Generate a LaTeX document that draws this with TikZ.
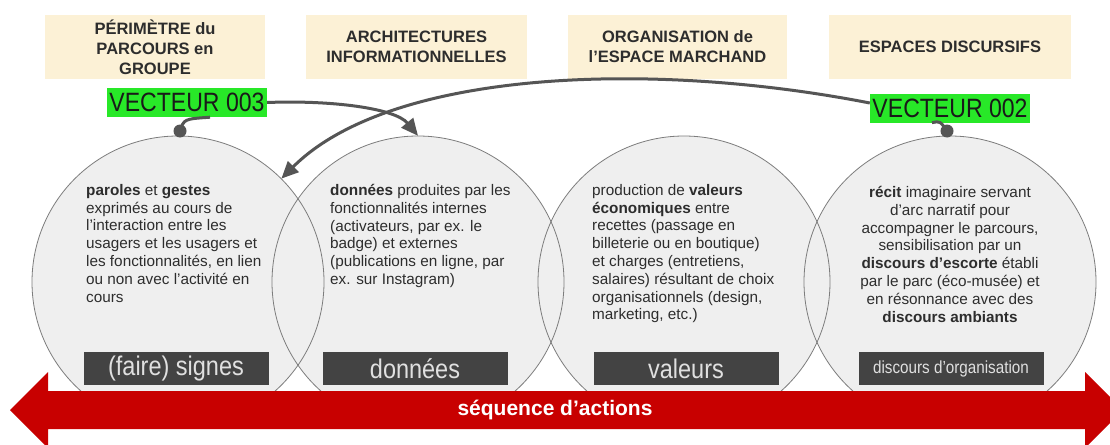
\documentclass[tikz,border=0pt]{standalone}
\usepackage{fontspec}
\setmainfont{Liberation Sans}
\newfontfamily\vecfont[FakeStretch=0.87]{Liberation Sans}
\usetikzlibrary{arrows.meta,calc}

\definecolor{beige}{RGB}{252,241,214}
\definecolor{vert}{RGB}{40,232,40}
\definecolor{bulle}{RGB}{239,239,239}
\definecolor{bord}{RGB}{125,125,125}
\definecolor{sombre}{RGB}{67,67,67}
\definecolor{rouge}{RGB}{200,0,0}
\definecolor{lienc}{RGB}{85,85,85}
\definecolor{texte}{RGB}{45,45,45}

\begin{document}
\begin{tikzpicture}[x=1pt, y=-1pt, >={Triangle[length=17pt,width=15pt]},
    entete/.style={fill=beige, minimum height=64pt, inner sep=0pt, align=center,
        text=texte, font=\fontsize{16.5}{20}\selectfont\bfseries},
    vecteur/.style={fill=vert, minimum width=160pt, minimum height=29pt, inner sep=0pt,
        text=black!90, font=\vecfont\fontsize{26.5}{28}\selectfont},
    rond/.style={circle, fill=bulle, minimum size=292pt, inner sep=0pt},
    etiquette/.style={fill=sombre, minimum width=185pt, minimum height=33pt, inner sep=0pt,
        text=white!88!black, font=\vecfont\fontsize{27}{28}\selectfont},
    corps/.style={anchor=north west, inner sep=0pt, align=left, text=texte,
        font=\fontsize{15.3}{17.8}\selectfont},
    lien/.style={draw=lienc, line width=3pt},
    point/.style={circle, fill=lienc, minimum size=13pt, inner sep=0pt}]
    \useasboundingbox (0,0) rectangle (1110,444);
    \clip (0,0) rectangle (1110,444);
    \fill[white] (0,0) rectangle (1110,444);

    % en-tetes
    \node[entete, minimum width=220pt] (h1) at (155,47) {PÉRIMÈTRE du\\PARCOURS en\\GROUPE};
    \node[entete, minimum width=221pt] (h2) at (416.5,47) {ARCHITECTURES\\INFORMATIONNELLES};
    \node[entete, minimum width=219pt] (h3) at (677.5,47) {ORGANISATION de\\l’ESPACE MARCHAND};
    \node[entete, minimum width=242pt] (h4) at (950,47) {ESPACES DISCURSIFS};

    % bulles
    \node[rond] (c1) at (178,282) {};
    \node[rond] (c2) at (418,282) {};
    \node[rond] (c3) at (684,282) {};
    \node[rond] (c4) at (950,282) {};
    \foreach \i in {1,...,4}
        \draw[bord, line width=0.8pt] (c\i.center) circle[radius=146pt];

    % textes des bulles
    \node[corps] (t1) at (86,184) {\textbf{paroles} et \textbf{gestes}\\exprimés au cours de\\l’interaction entre les\\usagers et les usagers et\\les fonctionnalités, en lien\\ou non avec l’activité en\\cours};
    \node[corps] (t2) at (330,184) {\textbf{données} produites par les\\fonctionnalités internes\\(activateurs, par ex. le\\badge) et externes\\(publications en ligne, par\\ex. sur Instagram)};
    \node[corps] (t3) at (592,184) {production de \textbf{valeurs}\\\textbf{économiques} entre\\recettes (passage en\\billeterie ou en boutique)\\et charges (entretiens,\\salaires) résultant de choix\\organisationnels (design,\\marketing, etc.)};
    \node[corps, anchor=north, align=center] (t4) at (950,186) {\textbf{récit} imaginaire servant\\d’arc narratif pour\\accompagner le parcours,\\sensibilisation par un\\\textbf{discours d’escorte} établi\\par le parc (éco-musée) et\\en résonnance avec des\\\textbf{discours ambiants}};

    % etiquettes
    \node[etiquette] (e1) at (176,368.5) {(faire) signes};
    \node[etiquette] (e2) at (415,368.5) {données};
    \node[etiquette] (e3) at (686,368.5) {valeurs};
    \node[etiquette, font=\vecfont\fontsize{17.5}{19}\selectfont] (e4) at (951,368.5) {discours d’organisation};

    % vecteurs
    \node[vecteur] (v3) at (187,102.5) {VECTEUR 003};
    \node[vecteur] (v2) at (950,108) {VECTEUR 002};
    \node[point] (d1) at (180,131) {};
    \node[point] (d2) at (947,131) {};
    \draw[lien] (d1.center) .. controls (184,119) .. ($(v3.south)+(23,0)$);
    \draw[lien] (d2.center) .. controls (940,121) .. ($(v2.south)+(-18,0)$);
    \draw[lien, ->] (v3.east) .. controls (330,100) and (395,108) .. (c2.north);
    \draw[lien, ->] ($(v2.west)+(0,-5)$) .. controls (650,60) and (390,70) .. (c1.45);

    % sequence
    \fill[rouge] (10,410) -- (48,372) -- (48,391) -- (1085,391) -- (1085,372) -- (1123,410)
        -- (1085,448) -- (1085,429) -- (48,429) -- (48,448) -- cycle;
    \node[text=white, font=\fontsize{21}{24}\selectfont\bfseries] (seq) at (555,410) {séquence d’actions};
\end{tikzpicture}
\end{document}
